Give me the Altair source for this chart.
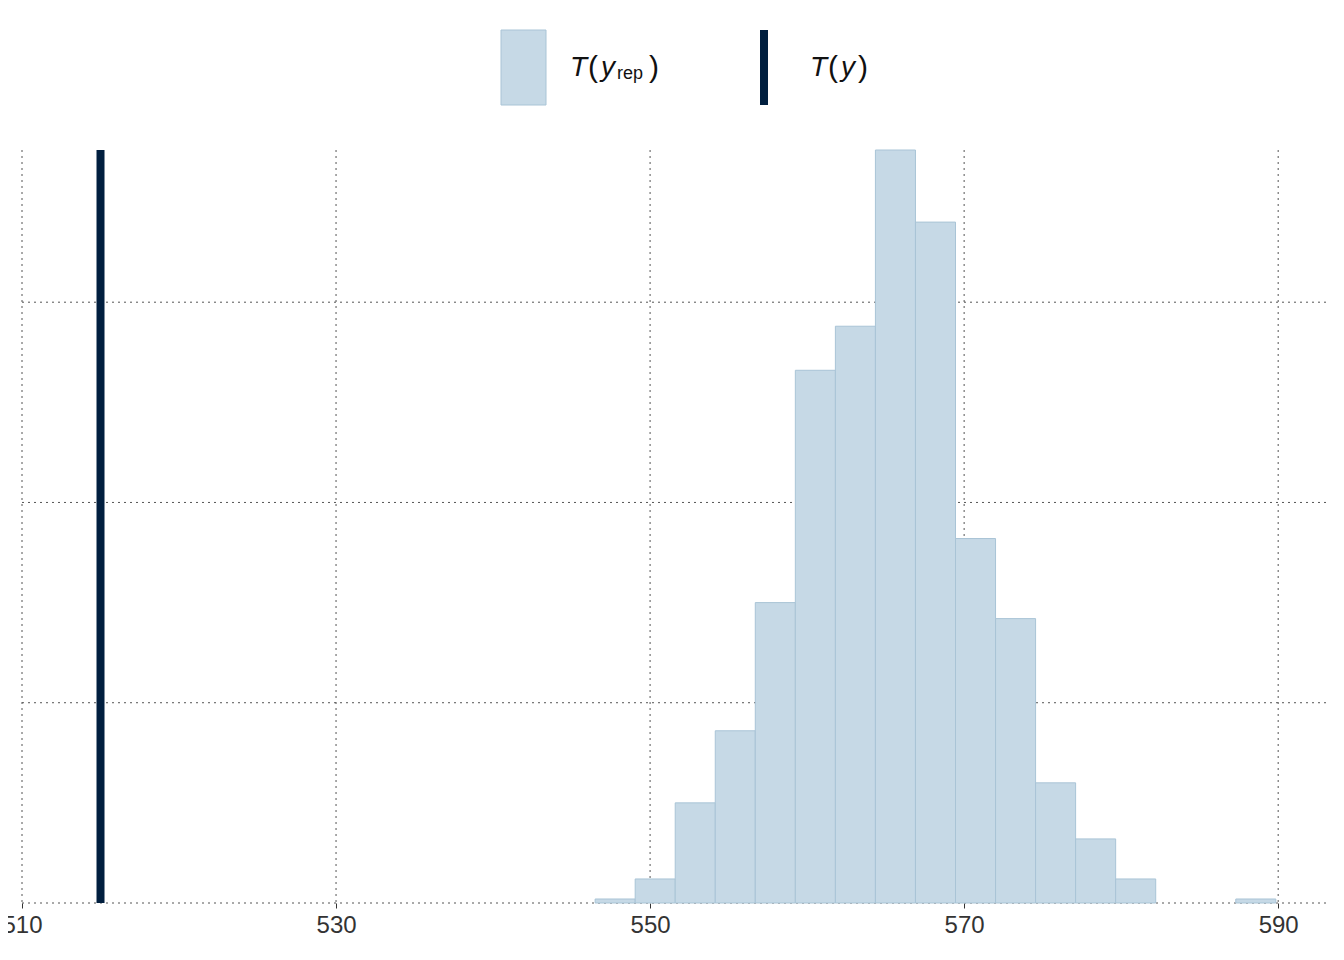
import altair as alt
import pandas as pd

bin_start = [546.5,549.05,551.6,554.15,556.7,559.25,561.8,564.35,566.9,569.45,572.0,574.55,577.1,579.65,582.2,584.75,587.3]
counts    = [1,6,25,43,75,133,144,188,170,91,71,30,16,6,0,0,1]
bw = 2.55
ty = 515.0
ticks = [510,530,550,570,590]

df = pd.DataFrame({"x": bin_start, "x2": [b+bw for b in bin_start], "c": counts})
df = df[df.c > 0]
X = alt.Scale(domain=[510, 593.3], nice=False, zero=False)
Y = alt.Scale(domain=[0, 188], nice=False)

grid_v = alt.Chart(pd.DataFrame({"t": ticks})).mark_rule(color="#555", strokeDash=[2,4], strokeWidth=1).encode(
    x=alt.X("t:Q", scale=X, axis=alt.Axis(values=ticks, labelFontSize=24, labelColor="#333", domain=False,
            labelFlush=False, labelOverlap=False,
            tickColor="#333", tickSize=5, labelPadding=5, grid=False, title=None, labelFont="Liberation Sans")),
    y=alt.value(0), y2=alt.value(753))
grid_h = alt.Chart(pd.DataFrame({"g": [0,50,100,150]})).mark_rule(color="#555", strokeDash=[2,4], strokeWidth=1).encode(
    y=alt.Y("g:Q", scale=Y, axis=None), x=alt.value(0), x2=alt.value(1308))
bars = alt.Chart(df).mark_rect(fill="#c6d9e6", stroke="#a9c4d6", strokeWidth=1).encode(
    x=alt.X("x:Q", scale=X), x2="x2:Q", y=alt.Y("c:Q", scale=Y), y2=alt.datum(0))
line = alt.Chart(pd.DataFrame({"v": [ty]})).mark_rule(color="#011f3f", strokeWidth=8).encode(
    x=alt.X("v:Q", scale=X), y=alt.value(0), y2=alt.value(753))

leg_rect = alt.Chart(pd.DataFrame({"a":[0]})).mark_rect(fill="#c6d9e6", stroke="#a9c4d6").encode(
    x=alt.value(479), x2=alt.value(524), y=alt.value(-120), y2=alt.value(-45))
leg_line = alt.Chart(pd.DataFrame({"a":[0]})).mark_rule(color="#011f3f", strokeWidth=8).encode(
    x=alt.value(742), y=alt.value(-120), y2=alt.value(-45))
items = pd.DataFrame({
    "t": ["T","(","y","rep",")","T","(","y",")"],
    "x": [548,566,579,595,627,788,806,819,836],
    "y": [-82,-82,-82,-76,-82,-82,-82,-82,-82],
    "s": [28,30,28,18,30,28,30,28,30],
    "i": ["italic","normal","italic","normal","normal","italic","normal","italic","normal"]})
texts = []
for r in items.itertuples():
    texts.append(alt.Chart(pd.DataFrame({"t":[r.t]})).mark_text(
        align="left", baseline="middle", fontSize=r.s, fontStyle=r.i, font="Liberation Sans", color="#111").encode(
        text="t:N", x=alt.value(r.x), y=alt.value(r.y)))

chart = alt.layer(grid_v, grid_h, bars, line, leg_rect, leg_line, *texts).properties(
    width=1308, height=753, autosize=alt.AutoSizeParams(type="none"),
    padding={"left":14, "top":142, "right":6, "bottom":50}
).configure_view(stroke=None)
chart.save("out.html", embed_options={"renderer": "svg", "actions": False})
